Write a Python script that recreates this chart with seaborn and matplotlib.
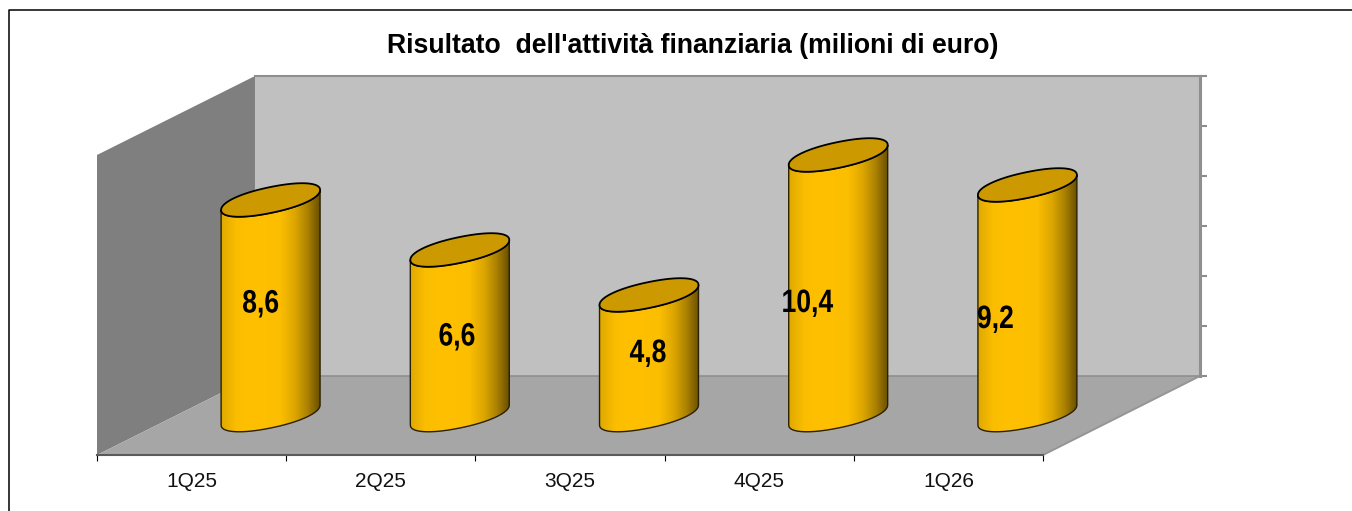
import numpy as np
import pandas as pd
import seaborn as sns
import matplotlib.pyplot as plt
import matplotlib.patheffects as pe
from matplotlib.colors import LinearSegmentedColormap
from matplotlib.patches import Polygon, PathPatch
from matplotlib.path import Path
from matplotlib.transforms import Affine2D

# values
quarters = ["1Q25", "2Q25", "3Q25", "4Q25", "1Q26"]
risultato = [8.6, 6.6, 4.8, 10.4, 9.2]
value_labels = ["8,6", "6,6", "4,8", "10,4", "9,2"]
title = "Risultato  dell'attività finanziaria (milioni di euro)"

W, H = 1352, 511
sns.set_theme(style="white")
plt.rcParams["font.family"] = ["Liberation Sans"]

fig = plt.figure(figsize=(W / 100, H / 100), dpi=100, facecolor="white")


def px_axes(left, right, top, bottom):
    return fig.add_axes([left / W, 1 - bottom / H, (right - left) / W, (bottom - top) / H])


# no narrow font installed, so squeeze the glyphs around their middle
class Narrow(pe.AbstractPathEffect):
    def __init__(self, sx):
        super().__init__()
        self.sx = sx

    def draw_path(self, renderer, gc, tpath, affine, rgbFace=None):
        mid = tpath.get_extents().x0 + tpath.get_extents().width / 2
        squeeze = Affine2D().translate(-mid, 0).scale(self.sx, 1).translate(mid, 0)
        renderer.draw_path(gc, tpath, squeeze + affine, rgbFace)


# frame and the side wall / floor of the 3d box, in pixels
bg = px_axes(0, W, 0, H)
bg.set_xlim(0, W)
bg.set_ylim(H, 0)
bg.axis("off")
bg.plot([8.5, 8.5, W], [H, 10.5, 10.5], color="black", lw=1.1)
bg.add_patch(Polygon([(97, 155), (255, 76), (255, 376), (97, 455)], fc="#7f7f7f", ec="none"))
bg.add_patch(Polygon([(97, 455), (255, 376), (1200, 376), (1043, 455)], fc="#a6a6a6", ec="none"))
bg.plot([1043, 1200], [455, 376], color="#959595", lw=1.4)
bg.plot([255, 255], [76, 376], color="#8f8f8f", lw=1)

# back wall, carries the value axis
back = px_axes(255, 1200, 76, 376)
back.set_facecolor("#c0c0c0")
back.set_ylim(0, 12)
back.set_xticks([])
back.yaxis.tick_right()
back.set_yticks(np.arange(0, 13, 2))
back.tick_params(axis="y", length=5, width=1.5, color="#8c8c8c", labelright=False, right=True)
for side in ["left", "right", "top", "bottom"]:
    back.spines[side].set_color("#8f8f8f")
back.spines["left"].set_visible(False)
back.spines["right"].set_linewidth(2.2)
back.spines["top"].set_linewidth(1.5)
back.spines["bottom"].set_linewidth(1.2)

# front edge of the floor, carries the categories
front = px_axes(97, 1043, 376, 455)
front.patch.set_alpha(0)
front.set_xlim(-0.5, 4.5)
front.set_yticks([])
front.set_xticks(np.arange(-0.5, 5, 1))
front.set_xticklabels([])
front.set_xticks(np.arange(5), labels=quarters, minor=True)
front.tick_params(axis="x", which="major", bottom=True, length=4.5, width=0.8, color="black")
front.tick_params(axis="x", which="minor", bottom=False, length=0, pad=12, labelsize=15, labelcolor="#111111")
sns.despine(ax=front, left=True)
front.spines["bottom"].set_color("#5a5a5a")
front.spines["bottom"].set_linewidth(1.5)

# bars sit halfway into the depth of the box, room below 0 for the round base
ax = px_axes(176, 1122, 115, 465)
ax.patch.set_alpha(0)
df = pd.DataFrame({"quarter": quarters, "value": risultato})
sns.barplot(data=df, x="quarter", y="value", color="#ffc000", width=0.523, ax=ax)
ax.axis("off")

shade = LinearSegmentedColormap.from_list(
    "cyl",
    [(0, "#dfa900"), (0.15, "#fbbd00"), (0.3, "#ffc000"), (0.6, "#fcbe00"),
     (0.75, "#dca600"), (0.88, "#a98000"), (1, "#6a5000")],
)
ramp = np.linspace(0, 1, 256).reshape(1, -1)

# rim of the cylinder, tilted by the oblique view (pixels -> value units)
rim_a = 10 / 25
rim_b = 13 / 25


def rim(cx, cy, half, t):
    # slightly squarish ends, like the original rendering
    c = np.sign(np.cos(t)) * np.abs(np.cos(t)) ** 0.93
    s = np.sign(np.sin(t)) * np.abs(np.sin(t)) ** 0.93
    return np.column_stack([cx + half * c, cy + rim_a * c + rim_b * s])


label_dx = [-10, -3, -1, -31, -32]
label_dy = [3, -5, 1, -19, -20]

for patch, val, lab, dx, dy in zip(ax.patches, risultato, value_labels, label_dx, label_dy):
    cx = patch.get_x() + patch.get_width() / 2
    half = patch.get_width() / 2
    front_t = np.linspace(np.pi, 2 * np.pi, 80)
    low = rim(cx, 0, half, front_t)
    up = rim(cx, val, half, front_t)[::-1]
    body = Path(np.vstack([low, up, low[:1]]))

    patch.set_clip_path(PathPatch(body, transform=ax.transData))
    im = ax.imshow(ramp, cmap=shade, extent=[cx - half, cx + half, -1, val + 1],
                   aspect="auto", interpolation="bilinear", zorder=3)
    im.set_clip_path(PathPatch(body, transform=ax.transData))
    ax.add_patch(PathPatch(body, fc="none", ec="#2a2000", lw=1, zorder=4))

    top = rim(cx, val, half, np.linspace(0, 2 * np.pi, 160))
    ax.add_patch(Polygon(top, closed=True, fc="#cc9a00", ec="black", lw=1.3, zorder=5))

    txt = ax.annotate(lab, (cx, val / 2), xytext=(dx, dy), textcoords="offset pixels",
                      ha="center", va="center", fontsize=23.3, fontweight="bold",
                      color="black", zorder=6)
    txt.set_path_effects([Narrow(0.82)])

ax.set_xlim(-0.5, 4.5)
ax.set_ylim(-2, 12)

fig.text(693 / W, 1 - 46 / H, title, ha="center", va="center", fontsize=19.2, fontweight="bold", color="black")

fig.savefig("out.png", dpi=100)
